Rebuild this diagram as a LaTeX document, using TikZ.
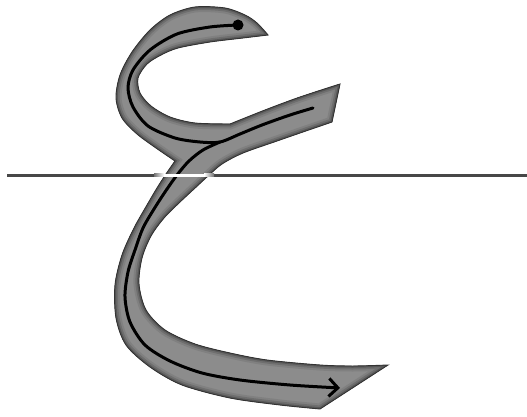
\documentclass[tikz,border=0pt]{standalone}
\usetikzlibrary{arrows.meta}
\newcommand\ainoutline{plot[smooth] coordinates {(268,35) (257,23) (245,15) (225,8) (195,7) (170,15) (150,30) (132,52) (120,75) (116,98) (122,118) (137,134) (156,148) (175,161)}
 -- plot[smooth] coordinates {(175,161) (166,174) (157,188) (147,205) (134,228) (122,255) (115,285) (116,318) (126,345) (150,367) (182,385) (230,398) (280,405) (320,409)}
 -- (388,365)
 -- plot[smooth] coordinates {(388,365) (353,366) (320,365) (267,360) (230,353) (195,344) (165,330) (146,310) (139,284) (142,258) (151,236) (164,218) (180,202) (194,189) (208,176) (222,164) (243,153) (277,141) (300,133) (332,122)}
 -- (340,84)
 -- plot[smooth] coordinates {(340,84) (300,97) (265,110) (230,124)}
 -- plot[smooth] coordinates {(230,124) (195,123) (170,117) (151,106) (140,93) (138,78) (147,64) (161,55) (178,48) (210,42) (243,38) (268,35)}
 -- cycle}
\tikzset{
  stroke/.style={line width=3pt, black, line cap=round, line join=round},
}
\begin{document}
\begin{tikzpicture}[x=1pt,y=-1pt]
\useasboundingbox (0,0) rectangle (527,417);
% baseline
\draw[line width=3pt, black!72] (7,175) -- (527,175);
% letter body
\fill[black!45] \ainoutline;
\begin{scope}
  \clip \ainoutline;
  \draw[line width=11pt, black!50] \ainoutline;
  \draw[line width=7pt, black!57] \ainoutline;
  \draw[line width=3.5pt, black!66] \ainoutline;
\end{scope}
\draw[line width=0.9pt, black!80] \ainoutline;
% stroke 1
\coordinate (start) at (238,25);
\coordinate (join) at (220,142);
\coordinate (armend) at (313,108);
\draw[stroke] plot[smooth] coordinates {(start) (210,27) (177,34) (150,50) (133,70) (128,88) (133,107) (148,126) (175,138) (200,142) (join) (240,134) (262,125) (290,115) (armend)};
\fill (start) circle[radius=5.5];
% stroke 2
\coordinate (tipend) at (340,388);
\draw[stroke, -{Straight Barb[length=9pt,width=18pt]}] plot[smooth] coordinates {(join) (203,150) (189,161) (177,175) (165,192) (154,209) (143,228) (135,250) (128,272) (125,297) (130,322) (145,345) (170,361) (202,373) (240,380) (290,385) (tipend)};
% highlight where baseline crosses the letter
\shade[left color=black!55, right color=white] (154,173.5) rectangle (164,176.5);
\fill[white] (164,173.5) rectangle (204,176.5);
\shade[left color=white, right color=black!55] (204,173.5) rectangle (214,176.5);
\end{tikzpicture}
\end{document}
